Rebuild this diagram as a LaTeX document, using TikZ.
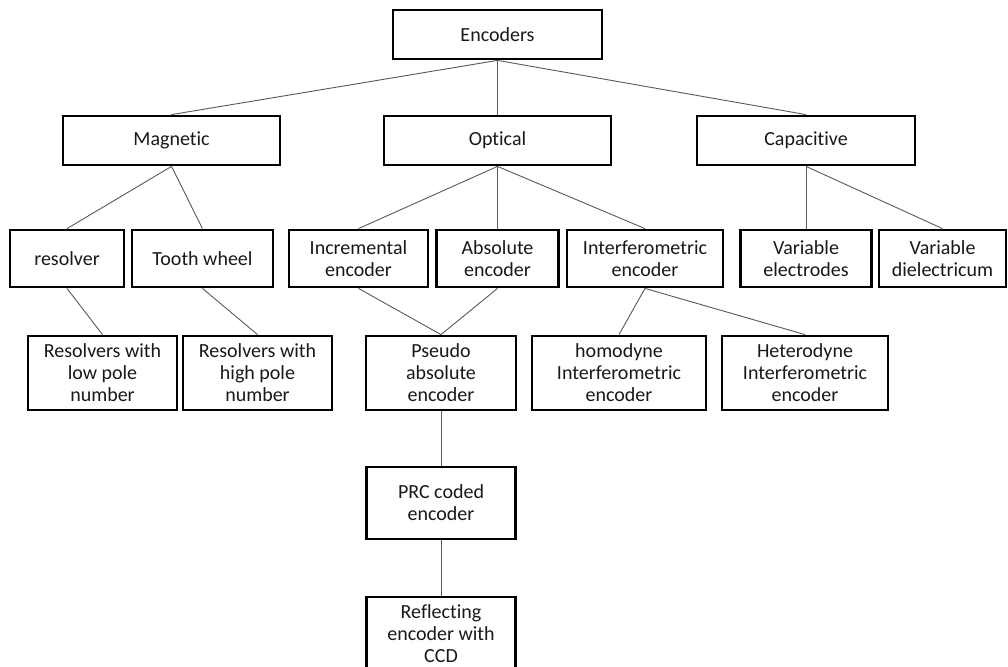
\documentclass[tikz,border=0pt]{standalone}
\usepackage{fontspec}
\setmainfont{Carlito}[Ligatures=NoCommon]
\usetikzlibrary{positioning}

\begin{document}
\begin{tikzpicture}[on grid,
    box/.style={draw, line width=2.8pt, align=center, inner sep=1pt,
                font=\fontsize{20pt}{22pt}\selectfont, text=black!90},
    rowa/.style={box, minimum height=49pt},
    rowb/.style={box, minimum height=57pt},
    rowc/.style={box, minimum height=74pt},
    conn/.style={line width=0.9pt, black!65}]
    \fill[white] (0,0) rectangle (1008pt,-666pt);
    \useasboundingbox (0,0) rectangle (1008pt,-666pt);

    % top and first level
    \node[rowa, minimum width=209pt] (enc) at (497.5pt,-34.5pt) {Encoders};
    \node[rowa, minimum width=217pt] [below left=106pt and 326pt of enc] (mag) {Magnetic};
    \node[rowa, minimum width=227pt] [below=106pt of enc] (opt) {Optical};
    \node[rowa, minimum width=218pt] [below right=106pt and 308.5pt of enc] (cap) {Capacitive};

    % second level
    \node[rowb, minimum width=114pt] [below left=118pt and 104.5pt of mag] (res) {resolver};
    \node[rowb, minimum width=141pt] [right=135.5pt of res] (tooth) {Tooth wheel};
    \node[rowb, minimum width=139pt] [below left=118pt and 139pt of opt] (inc) {Incremental\\encoder};
    \node[rowb, minimum width=122pt] [below=118pt of opt] (abs) {Absolute\\encoder};
    \node[rowb, minimum width=156pt] [below right=118pt and 147.5pt of opt] (intf) {Interferometric\\encoder};
    \node[rowb, minimum width=131pt] [below=118pt of cap] (vele) {Variable\\electrodes};
    \node[rowb, minimum width=127pt] [right=136.5pt of vele] (vdie) {Variable\\dielectricum};

    % third level
    \node[rowc, minimum width=149pt] [below right=114.5pt and 35.5pt of res] (low) {Resolvers with\\low pole\\number};
    \node[rowc, minimum width=149pt] [below right=114.5pt and 55pt of tooth] (high) {Resolvers with\\high pole\\number};
    \node[rowc, minimum width=150pt] [below right=114.5pt and 82.5pt of inc] (pseudo) {Pseudo\\absolute\\encoder};
    \node[rowc, minimum width=174pt] [below left=114.5pt and 26pt of intf] (homo) {homodyne\\Interferometric\\encoder};
    \node[rowc, minimum width=166pt] [below right=114.5pt and 160pt of intf] (hetero) {Heterodyne\\Interferometric\\encoder};

    % pseudo absolute branch
    \node[box, minimum width=149pt, minimum height=72pt] [below=130pt of pseudo] (prc) {PRC coded\\encoder};
    \node[rowc, minimum width=149pt] [below=131pt of prc] (refl) {Reflecting\\encoder with\\CCD};

    \path[conn]
    (enc.south) edge (mag.north)
                edge (opt.north)
                edge (cap.north)
    (mag.south) edge (res.north)
                edge (tooth.north)
    (opt.south) edge (inc.north)
                edge (abs.north)
                edge (intf.north)
    (cap.south) edge (vele.north)
                edge (vdie.north)
    (res.south) edge (low.north)
    (tooth.south) edge (high.north)
    (inc.south) edge (pseudo.north)
    (abs.south) edge (pseudo.north)
    (intf.south) edge (homo.north)
                 edge (hetero.north)
    (pseudo.south) edge (prc.north)
    (prc.south) edge (refl.north);
\end{tikzpicture}
\end{document}
